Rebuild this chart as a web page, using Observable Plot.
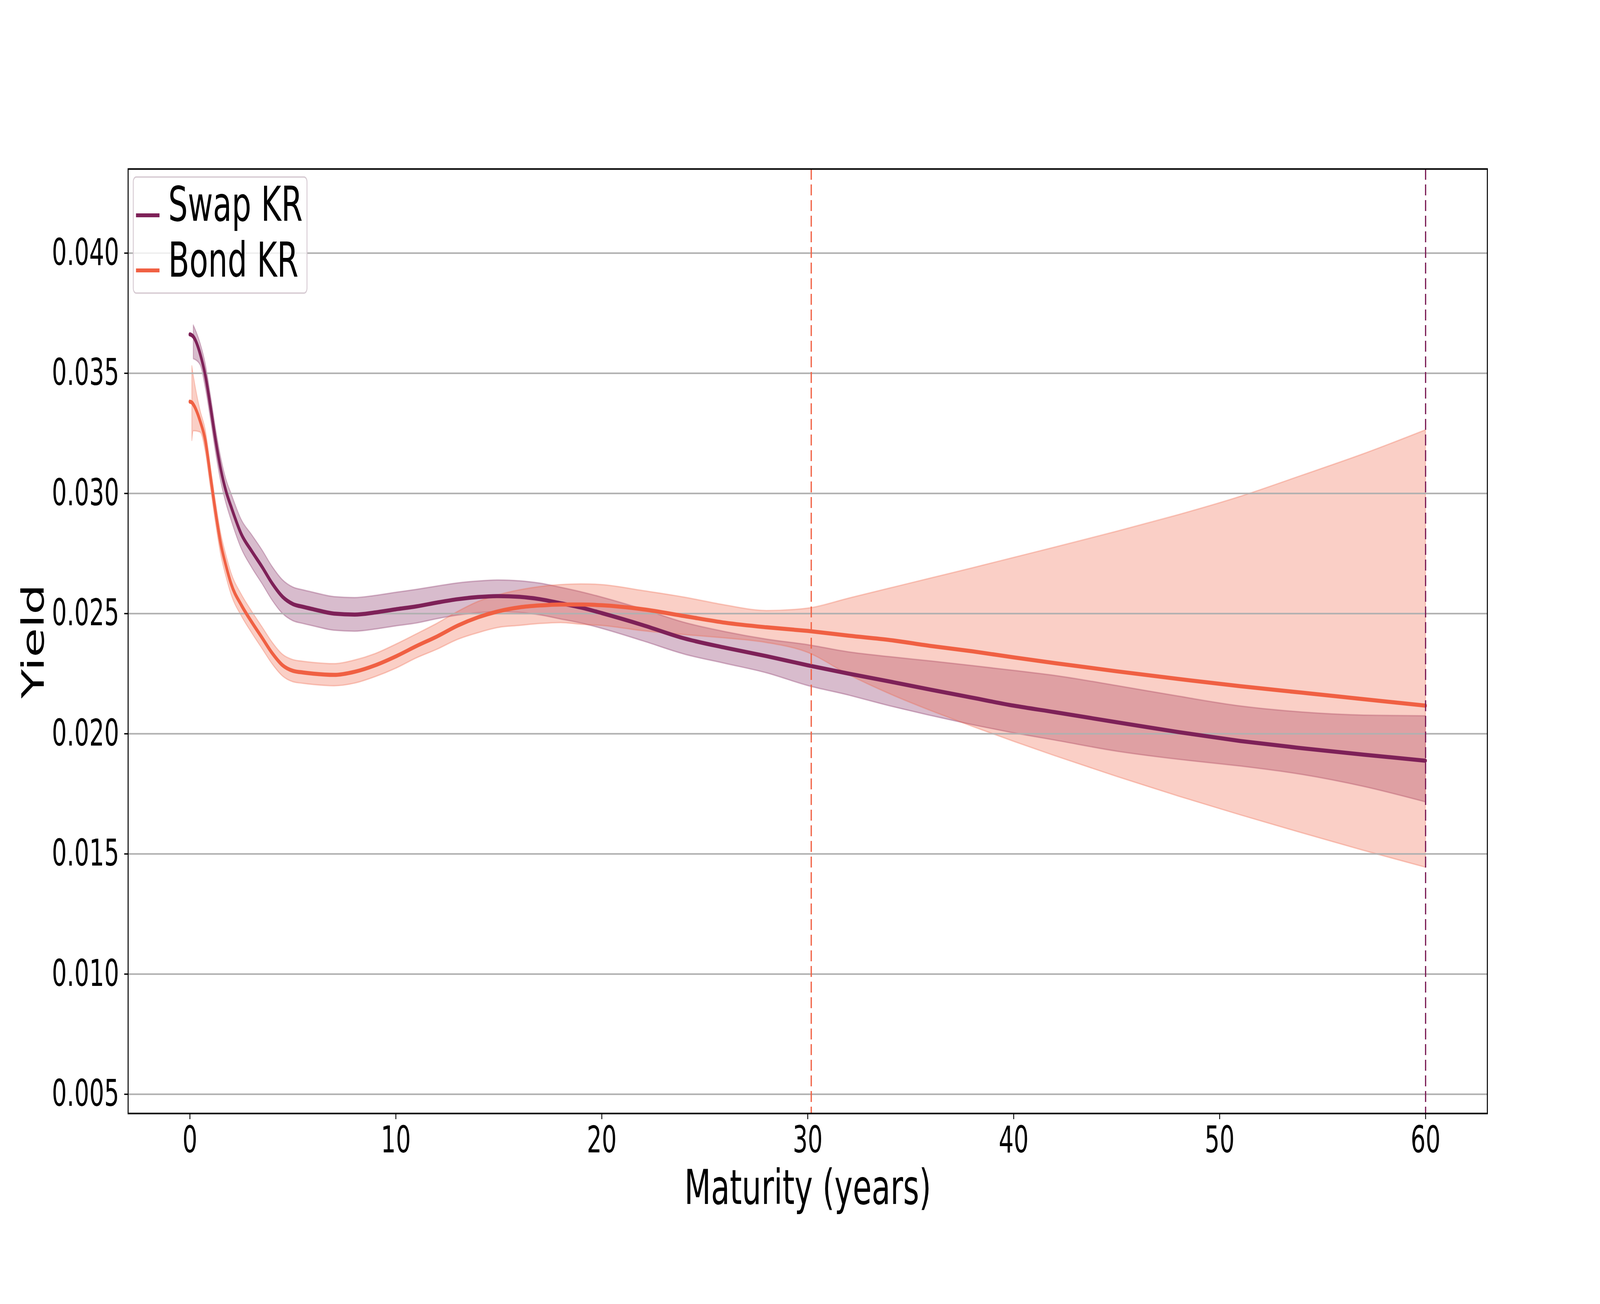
<!DOCTYPE html>
<html><head><meta charset="utf-8">
<script src="https://cdn.jsdelivr.net/npm/d3@7"></script>
<script src="https://cdn.jsdelivr.net/npm/@observablehq/plot@0.6"></script>
<style>
html,body{margin:0;padding:0;background:#fff;overflow:hidden;}
#wrap{position:relative;width:100vw;height:100vh;background:#fff;}
#wrap > svg{position:absolute;left:0;top:0;display:block;width:100% !important;height:100% !important;max-width:none !important;}
#legend{pointer-events:none;}
</style></head><body>
<div id="wrap"></div>
<script>
// ---- data ----
const maturity = [0, 0.1, 0.17, 0.5, 0.75, 1, 1.25, 1.5, 1.75, 2, 2.5, 3, 3.5, 4, 4.5, 5, 5.5, 6, 7, 8, 9, 10, 11, 12, 13, 14, 15, 16, 17, 18, 19, 20, 22, 24, 26, 28, 30, 32, 34, 36, 38, 40, 42, 45, 48, 51, 54, 57, 60];

const swapYield = [0.03662, 0.03658, 0.03652, 0.0358, 0.0349, 0.0336, 0.0322, 0.0310, 0.0301, 0.02945, 0.0283, 0.0276, 0.02695, 0.02625, 0.0257, 0.0254, 0.02528, 0.02518, 0.0250, 0.02496, 0.02505, 0.02518, 0.0253, 0.02546, 0.0256, 0.02569, 0.02573, 0.0257, 0.0256, 0.02543, 0.02525, 0.02502, 0.02452, 0.02397, 0.02358, 0.02323, 0.02285, 0.0225, 0.02217, 0.02183, 0.0215, 0.02117, 0.0209, 0.02048, 0.02007, 0.0197, 0.0194, 0.01913, 0.01888];
const swapHi = [null, null, 0.0370, 0.03625, 0.0354, 0.0341, 0.0327, 0.0315, 0.0306, 0.0300, 0.0289, 0.02828, 0.02765, 0.02695, 0.0264, 0.0261, 0.02598, 0.02588, 0.0257, 0.02566, 0.02575, 0.02588, 0.0260, 0.02614, 0.02627, 0.02635, 0.02639, 0.02636, 0.02626, 0.02609, 0.0259, 0.02568, 0.02518, 0.02463, 0.02424, 0.02393, 0.0237, 0.0234, 0.0232, 0.02302, 0.02283, 0.02263, 0.02242, 0.0220, 0.02156, 0.02115, 0.0209, 0.02077, 0.02074];
const swapLo = [null, null, 0.0356, 0.03535, 0.0344, 0.0331, 0.0317, 0.0305, 0.0296, 0.0289, 0.0277, 0.02692, 0.02625, 0.02555, 0.0250, 0.0247, 0.02458, 0.02448, 0.0243, 0.02426, 0.02435, 0.02448, 0.0246, 0.02478, 0.02493, 0.02503, 0.02507, 0.02504, 0.02494, 0.02477, 0.0246, 0.02438, 0.02386, 0.02331, 0.02292, 0.02253, 0.0220, 0.0216, 0.02115, 0.02075, 0.02037, 0.02003, 0.01973, 0.01927, 0.01893, 0.01865, 0.0183, 0.0178, 0.01716];

const bondYield = [0.03382, 0.03378, 0.0337, 0.0330, 0.0322, 0.0307, 0.0292, 0.0279, 0.0270, 0.02624, 0.02535, 0.02465, 0.0240, 0.02335, 0.02285, 0.02262, 0.02255, 0.0225, 0.02245, 0.02258, 0.02285, 0.02322, 0.02365, 0.02405, 0.0245, 0.02485, 0.0251, 0.02526, 0.02534, 0.02538, 0.02538, 0.02535, 0.02518, 0.0249, 0.02462, 0.02443, 0.02428, 0.02408, 0.0239, 0.02365, 0.02343, 0.02318, 0.02294, 0.0226, 0.02228, 0.02198, 0.02171, 0.02144, 0.02117];
const bondHi = [null, 0.0353, 0.0349, 0.03345, 0.03265, 0.03115, 0.02965, 0.02835, 0.02745, 0.0267, 0.0258, 0.0251, 0.02445, 0.0238, 0.0233, 0.02308, 0.02301, 0.02296, 0.02291, 0.02306, 0.02333, 0.02372, 0.02415, 0.02459, 0.02508, 0.0255, 0.02578, 0.02598, 0.02612, 0.0262, 0.02623, 0.0262, 0.02595, 0.02568, 0.02535, 0.02512, 0.02522, 0.02564, 0.02606, 0.02648, 0.0269, 0.02733, 0.02776, 0.02842, 0.02911, 0.02987, 0.03075, 0.03165, 0.03264];
const bondLo = [null, 0.0322, 0.0326, 0.03255, 0.03175, 0.03025, 0.02875, 0.02745, 0.02655, 0.0258, 0.0249, 0.0242, 0.02355, 0.0229, 0.0224, 0.02216, 0.02209, 0.02204, 0.02199, 0.0221, 0.02237, 0.02272, 0.02315, 0.02351, 0.02392, 0.0242, 0.02442, 0.0245, 0.02458, 0.02462, 0.02455, 0.0245, 0.02428, 0.02412, 0.02398, 0.02379, 0.02338, 0.02245, 0.02165, 0.02095, 0.0203, 0.01968, 0.01908, 0.01822, 0.0174, 0.01662, 0.01587, 0.01514, 0.01444];

const seriesNames = ["Swap KR", "Bond KR"];
const seriesColors = ["#7e2158", "#f06043"];
const lastMaturity = [60, 30.17];          // dashed markers: swap, bond
const xTicks = [0, 10, 20, 30, 40, 50, 60];
const yTicks = [0.005, 0.010, 0.015, 0.020, 0.025, 0.030, 0.035, 0.040];
const xLabel = "Maturity (years)";
const yLabel = "Yield";

// ---- table ----
const rows = maturity.map((m, i) => ({
  m,
  swap: swapYield[i], swapLo: swapLo[i], swapHi: swapHi[i],
  bond: bondYield[i], bondLo: bondLo[i], bondHi: bondHi[i]
}));
const swapBand = rows.filter(d => d.swapLo != null);
const bondBand = rows.filter(d => d.bondLo != null);

const FONT = "DejaVu Sans";
const cSwap = seriesColors[0], cBond = seriesColors[1];
const W = 6400, H = 3337;   // design size of the reference figure

const chart = Plot.plot({
  width: W,
  height: H,
  marginLeft: 512,
  marginRight: 451,
  marginTop: 432,
  marginBottom: 488,
  style: {fontFamily: FONT, fontSize: "94px", background: "white", color: "black"},
  x: {domain: [-3, 63]},
  y: {domain: [0.0042, 0.0435]},
  marks: [
    Plot.areaY(swapBand, {x: "m", y1: "swapLo", y2: "swapHi", fill: cSwap, fillOpacity: 0.3,
      stroke: cSwap, strokeOpacity: 0.3, strokeWidth: 3.5, curve: "monotone-x"}),
    Plot.areaY(bondBand, {x: "m", y1: "bondLo", y2: "bondHi", fill: cBond, fillOpacity: 0.3,
      stroke: cBond, strokeOpacity: 0.3, strokeWidth: 3.5, curve: "monotone-x"}),
    Plot.gridY(yTicks, {stroke: "#b0b0b0", strokeOpacity: 1, strokeWidth: 4}),
    Plot.lineY(rows, {x: "m", y: "swap", stroke: cSwap, strokeWidth: 10.5, curve: "monotone-x"}),
    Plot.lineY(rows, {x: "m", y: "bond", stroke: cBond, strokeWidth: 10.5, curve: "monotone-x"}),
    Plot.ruleX([lastMaturity[1]], {stroke: cBond, strokeWidth: 5, strokeDasharray: "28,12"}),
    Plot.ruleX([lastMaturity[0]], {stroke: cSwap, strokeWidth: 5, strokeDasharray: "28,12"}),
    Plot.frame({stroke: "black", strokeWidth: 4}),
    Plot.axisX(xTicks, {tickSize: 15, tickPadding: 18, strokeWidth: 3.5, fontSize: 94, label: null}),
    Plot.axisY(yTicks, {tickSize: 15, tickPadding: 21, strokeWidth: 3.5, fontSize: 94,
      tickFormat: d3.format(".3f"), label: null}),
    Plot.text([xLabel], {text: d => d, frameAnchor: "bottom", dy: 231, lineAnchor: "bottom",
      textAnchor: "middle", fontSize: 123, fill: "black"}),
    Plot.text([yLabel], {text: d => d, frameAnchor: "left", dx: -337, rotate: -90, lineAnchor: "bottom",
      textAnchor: "middle", fontSize: 123, fill: "black"})
  ]
});
// fill the whole window with the 6400x3337 figure
chart.setAttribute("viewBox", `0 0 ${W} ${H}`);
chart.setAttribute("preserveAspectRatio", "none");

const wrap = document.getElementById("wrap");
wrap.appendChild(chart);

// ---- legend (inside the axes, upper left) ----
const leg = d3.select(wrap).append("svg")
  .attr("id", "legend")
  .attr("viewBox", `0 0 ${W} ${H}`)
  .attr("preserveAspectRatio", "none")
  .style("font-family", FONT);
leg.append("rect")
  .attr("x", 533).attr("y", 453).attr("width", 695).attr("height", 297)
  .attr("rx", 12).attr("ry", 12)
  .attr("fill", "white").attr("fill-opacity", 0.8)
  .attr("stroke", "#d6cad2").attr("stroke-width", 3.5);
const item = leg.selectAll("g.item").data(seriesNames).join("g").attr("class", "item");
item.append("line")
  .attr("x1", 544).attr("x2", 638)
  .attr("y1", (d, i) => 551 + i * 141).attr("y2", (d, i) => 551 + i * 141)
  .attr("stroke", (d, i) => seriesColors[i]).attr("stroke-width", 10);
item.append("text")
  .attr("x", 673).attr("y", (d, i) => 565 + i * 143)
  .attr("font-size", 123).attr("fill", "black")
  .text(d => d);
</script>
</body></html>
